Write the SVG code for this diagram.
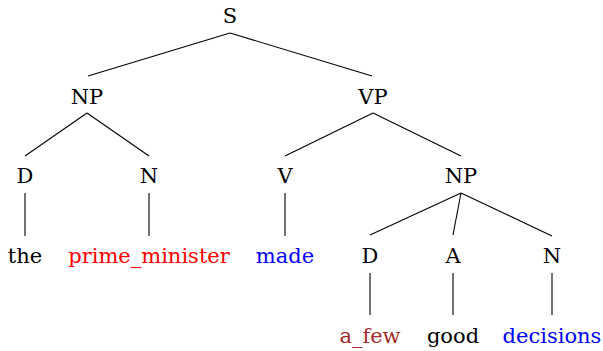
<svg xmlns="http://www.w3.org/2000/svg" width="603" height="351" viewBox="0 0 603 351">
<style>
.red{fill:#ff0000}.blue{fill:#0000ff}.brown{fill:#a52a2a}
#edges line{stroke:#000;stroke-width:1.1}
</style>
<rect width="603" height="351" fill="#fff"/>
<g id="edges">
<line x1="230" y1="33" x2="88" y2="76"/>
<line x1="230" y1="33" x2="372" y2="76"/>
<line x1="87" y1="113" x2="25" y2="156"/>
<line x1="87" y1="113" x2="149" y2="156"/>
<line x1="373" y1="113" x2="285" y2="156"/>
<line x1="373" y1="113" x2="461" y2="156"/>
<line x1="25" y1="193" x2="25" y2="236"/>
<line x1="149" y1="193" x2="149" y2="236"/>
<line x1="285" y1="193" x2="285" y2="236"/>
<line x1="461" y1="193" x2="370" y2="235"/>
<line x1="461" y1="193" x2="453" y2="235"/>
<line x1="461" y1="193" x2="552" y2="236"/>
<line x1="370" y1="273" x2="370" y2="315"/>
<line x1="453" y1="273" x2="453" y2="315"/>
<line x1="552" y1="273" x2="552" y2="315"/>
</g>
<g font-family="DejaVu Serif, serif" font-size="21" text-anchor="middle" fill="#000">
<g id="S"><text x="230" y="23">S</text></g>
<g id="NP1"><text x="87" y="104">NP</text></g>
<g id="VP"><text x="373" y="104">VP</text></g>
<g id="D1"><text x="25" y="183">D</text></g>
<g id="N1"><text x="149" y="183">N</text></g>
<g id="V"><text x="285" y="183">V</text></g>
<g id="NP2"><text x="461" y="183">NP</text></g>
<g id="the"><text x="25" y="263">the</text></g>
<g id="prime_minister"><text class="red" x="149" y="263">prime_minister</text></g>
<g id="made"><text class="blue" x="285" y="263">made</text></g>
<g id="D2"><text x="370" y="263">D</text></g>
<g id="A"><text x="453" y="263">A</text></g>
<g id="N2"><text x="552" y="263">N</text></g>
<g id="a_few"><text class="brown" x="370" y="343">a_few</text></g>
<g id="good"><text x="453" y="343">good</text></g>
<g id="decisions"><text class="blue" x="552" y="343">decisions</text></g>
</g>
</svg>
